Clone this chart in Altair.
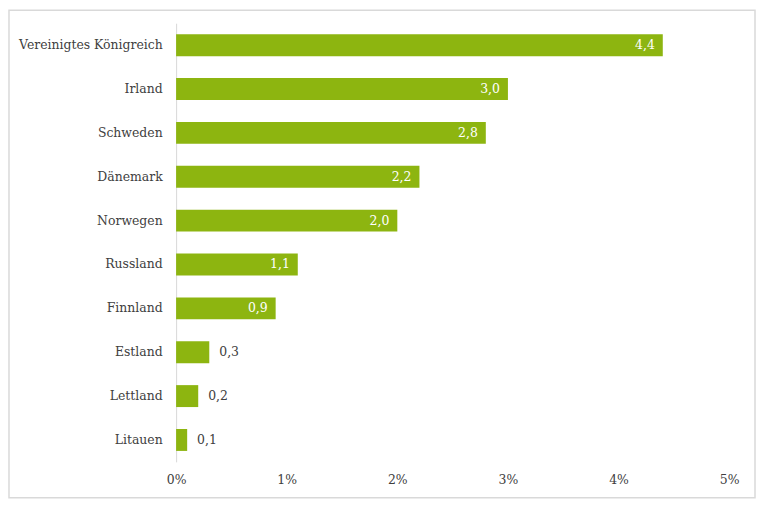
import altair as alt
import pandas as pd

countries = ["Vereinigtes Königreich", "Irland", "Schweden", "Dänemark", "Norwegen",
             "Russland", "Finnland", "Estland", "Lettland", "Litauen"]
values = [4.4, 3.0, 2.8, 2.2, 2.0, 1.1, 0.9, 0.3, 0.2, 0.1]
x_ticks = [0, 1, 2, 3, 4, 5]

df = pd.DataFrame({"land": countries, "wert": values})
df["label"] = [f"{v:.1f}".replace(".", ",") for v in values]
df["inside"] = [v >= 0.5 for v in values]

FONT = "DejaVu Serif"
FS = 12.5
W, H = 556, 441
PL, PT, PR, PB = 169, 14, 27, 37

y_enc = alt.Y("land:N", sort=countries, title=None,
              scale=alt.Scale(paddingInner=0.5, paddingOuter=0.25),
              axis=alt.Axis(domainColor="#d9d9d9", ticks=False, labelPadding=14,
                            labelFont=FONT, labelFontSize=FS, labelColor="#404040"))
x_enc = alt.X("wert:Q", title=None,
              scale=alt.Scale(domain=[0, 5], nice=False),
              axis=alt.Axis(values=x_ticks, domain=False, ticks=False, grid=False,
                            labelFlush=False,
                            labelExpr="datum.value + '%'", labelPadding=12,
                            labelFont=FONT, labelFontSize=FS, labelColor="#404040"))

base = alt.Chart(df)
bars = base.mark_bar(color="#8db510").encode(x=x_enc, y=y_enc)
inside = base.transform_filter("datum.inside").mark_text(
    align="right", dx=-8, color="white", font=FONT, fontSize=FS
).encode(x="wert:Q", y=alt.Y("land:N", sort=countries), text="label:N")
outside = base.transform_filter("!datum.inside").mark_text(
    align="left", dx=10, color="#404040", font=FONT, fontSize=FS
).encode(x="wert:Q", y=alt.Y("land:N", sort=countries), text="label:N")

border = alt.Chart(pd.DataFrame({"a": [0]})).mark_rect(
    fill=None, stroke="#d9d9d9", strokeWidth=1.5, clip=False
).encode(x=alt.value(-PL + 1), x2=alt.value(W + PR - 1),
         y=alt.value(-PT + 1), y2=alt.value(H + PB - 1))

chart = alt.layer(bars, inside, outside, border).properties(
    width=W, height=H,
    autosize=alt.AutoSizeParams(type="none"),
    padding={"left": PL, "top": PT, "right": PR, "bottom": PB},
).configure_view(stroke=None)

chart.save("out.html", embed_options={"renderer": "svg", "actions": False})
